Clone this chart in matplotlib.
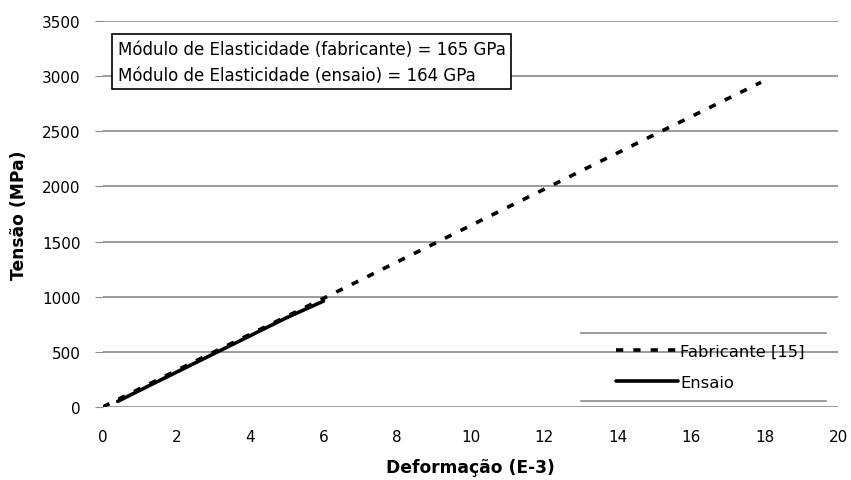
import matplotlib.pyplot as plt
from matplotlib.lines import Line2D

plt.rcParams['font.family'] = ['DejaVu Sans']

# Curvas tensao x deformacao
def_fab = [0, 3, 6, 9, 12, 15, 17.9]
ten_fab = [0, 495, 985, 1480, 1975, 2470, 2945]

def_ens = [0.4, 1, 2, 3, 4, 5, 6.0]
ten_ens = [50, 150, 315, 480, 645, 810, 960]

E_fab = 165  # GPa
E_ens = 164  # GPa

fig = plt.figure(figsize=(8.51, 4.81), dpi=100)
ax = fig.add_axes([0.121, 0.152, 0.864, 0.802])

l_ens, = ax.plot(def_ens, ten_ens, color='black', lw=2.6,
                 solid_capstyle='round', zorder=3)
l_fab, = ax.plot(def_fab, ten_fab, color='black', lw=2.6, ls=(0, (2.0, 2.8)),
                 zorder=4)

ax.set_xlim(0, 20)
ax.set_ylim(0, 3500)
ax.set_xticks(range(0, 21, 2))
ax.set_yticks(range(0, 3501, 500))
ax.yaxis.grid(True, color='#8a8a8a', lw=1.2)
ax.set_axisbelow(True)
for s in ax.spines.values():
    s.set_visible(False)
ax.tick_params(axis='x', length=0, pad=16, labelsize=11)
ax.tick_params(axis='y', length=6, color='#8a8a8a', pad=10, labelsize=11)

ax.set_xlabel('Deformação (E-3)', fontsize=12.3, fontweight='bold', labelpad=10)
ax.set_ylabel('Tensão (MPa)', fontsize=12.3, fontweight='bold', labelpad=10)

ax.text(0.02, 0.952,
        f'Módulo de Elasticidade (fabricante) = {E_fab} GPa\n'
        f'Módulo de Elasticidade (ensaio) = {E_ens} GPa',
        transform=ax.transAxes, va='top', ha='left', fontsize=12,
        linespacing=1.6,
        bbox=dict(boxstyle='square,pad=0.32', fc='white', ec='black', lw=1.2))

leg = ax.legend([l_fab, l_ens], ['Fabricante [15]', 'Ensaio'],
                loc='lower right', bbox_to_anchor=(0.97, 0.015),
                frameon=False, fontsize=11.8, handlelength=3.8,
                handletextpad=0.1, labelspacing=0.95, borderpad=0.7,
                borderaxespad=0.0)

# linhas horizontais acima e abaixo da legenda
fig.canvas.draw()
bb = leg.get_window_extent()
to_fig = fig.transFigure.inverted()
(x0, y0), (x1, y1) = to_fig.transform([(bb.x0 - 24, bb.y0), (bb.x1 + 10, bb.y1)])
for yy in (y0, y1):
    fig.add_artist(Line2D([x0, x1], [yy, yy], color='#8a8a8a', lw=1.2))

fig.savefig('out.png', dpi=100)
